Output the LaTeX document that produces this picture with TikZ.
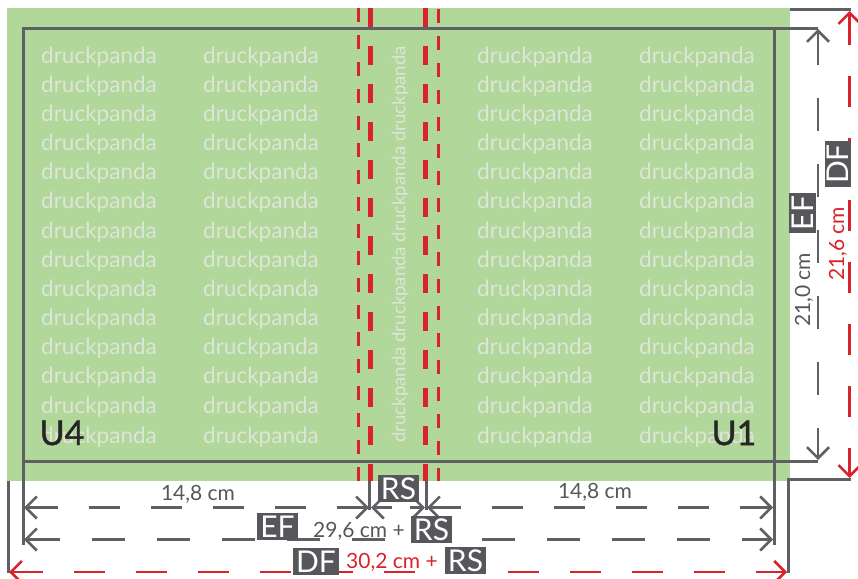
\documentclass[tikz,border=0pt]{standalone}
\usepackage{fontspec}
\setmainfont{Lato}
\newfontfamily\coverfont[FakeBold=1.2]{Lato}
\usetikzlibrary{arrows.meta}
\definecolor{grn}{HTML}{B1D79B}
\definecolor{wm}{HTML}{DDE5D8}
\definecolor{gry}{HTML}{5E6064}
\definecolor{lbl}{HTML}{55575B}
\definecolor{rd}{HTML}{D8232A}
\tikzset{
 x=1pt,y=-1pt,
 wmark/.style={text=wm,font=\fontsize{22.5}{22.5}\selectfont,inner sep=0pt},
 tag/.style={fill=lbl,text=white,font=\fontsize{30}{30}\selectfont,inner sep=0pt,anchor=center},
 dimtxt/.style={text=lbl,font=\fontsize{21}{21}\selectfont,inner sep=0pt},
 redtxt/.style={text=rd,font=\fontsize{21}{21}\selectfont,inner sep=0pt},
 cover/.style={text=black!85,font=\coverfont\fontsize{34}{34}\selectfont,inner sep=0pt},
 trimln/.style={draw=gry,line width=3pt},
 tipg/.style={draw=gry,line width=2.6pt,dash pattern=on 31pt off 31pt,{Straight Barb[length=11pt,width=22pt,line width=2.6pt]}-{Straight Barb[length=11pt,width=22pt,line width=2.6pt]}},
 tipr/.style={tipg,draw=rd},
 thickfold/.style={draw=rd,line width=4.5pt,dash pattern=on 19pt off 19pt},
 thinfold/.style={draw=rd,line width=3pt,dash pattern=on 14pt off 13pt},
}
\begin{document}
\begin{tikzpicture}
\useasboundingbox (0,0) rectangle (858,578);
\fill[grn] (7,8) rectangle (790,481);
% watermark
\foreach \r [count=\i] in {57,86,115,144,173,202,232,261,290,319,348,377,407,437}{
  \node[wmark] (wa\i) at (99,\r) {druckpanda};
  \node[wmark] (wb\i) at (261,\r) {druckpanda};
  \node[wmark] (wc\i) at (535,\r) {druckpanda};
  \node[wmark] (wd\i) at (697,\r) {druckpanda};
}
\node[wmark,rotate=90,font=\fontsize{18.6}{18.6}\selectfont] (wspine) at (400,244.5) {druckpanda druckpanda druckpanda druckpanda};
% fold lines
\coordinate (fa1) at (370.5,8); \coordinate (fa2) at (370.5,481);
\coordinate (fb1) at (425.5,8); \coordinate (fb2) at (425.5,481);
\coordinate (fc1) at (358,8); \coordinate (fc2) at (358,481);
\coordinate (fd1) at (438,9); \coordinate (fd2) at (438,481);
\draw[thickfold] (fa1) -- (fa2);
\draw[thickfold] (fb1) -- (fb2);
\draw[thinfold] (fc1) -- (fc2);
\draw[thinfold] (fd1) -- (fd2);
% trim box and extension lines
\draw[trimln] (23,545) -- (23,28.5) -- (818,28.5);
\draw[trimln] (23,461) -- (818,461);
\draw[trimln] (774,28.5) -- (774,545);
\draw[trimln] (8,481) -- (8,573);
\draw[trimln] (788.5,573) -- (788.5,479) -- (851,479);
\draw[trimln] (790,9.5) -- (851,9.5);
\draw[trimln] (369.5,481) -- (369.5,510);
\draw[trimln] (426,481) -- (426,510);
% dimension end points
\coordinate (h1a) at (24,507.5); \coordinate (h1b) at (369,507.5);
\coordinate (h2a) at (371,507.5); \coordinate (h2b) at (425,507.5);
\coordinate (h3a) at (427,507.5); \coordinate (h3b) at (773,507.5);
\coordinate (h4a) at (24,539.5); \coordinate (h4b) at (773,539.5);
\coordinate (h5a) at (9,572); \coordinate (h5b) at (787,572);
\coordinate (v1a) at (818,29); \coordinate (v1b) at (818,460);
\coordinate (v2a) at (849.5,11); \coordinate (v2b) at (849.5,478);
\draw[tipg] (h1a) -- (h1b);
\draw[tipg,dash pattern=on 18pt off 18pt] (h2a) -- (h2b);
\draw[tipg] (h3a) -- (h3b);
\draw[tipg,dash pattern=on 32.5pt off 32.5pt] (h4a) -- (h4b);
\draw[tipr] (h5a) -- (h5b);
\draw[tipg,dash pattern=on 33pt off 33pt] (v1a) -- (v1b);
\draw[tipr] (v2a) -- (v2b);
% cover labels
\node[cover] (u4) at (62,433) {U4};
\node[cover] (u1) at (734,433) {U1};
% tags
\node[tag,minimum width=41pt,minimum height=27pt] (rs1) at (398.5,488.5) {RS};
\node[tag,minimum width=41pt,minimum height=27pt] (ef1) at (277.5,526.5) {EF};
\node[tag,minimum width=41pt,minimum height=27pt] (rs2) at (431.5,529.5) {RS};
\node[tag,minimum width=46pt,minimum height=27pt] (df1) at (316,561.5) {DF};
\node[tag,minimum width=41pt,minimum height=27pt] (rs3) at (465.5,560.5) {RS};
\node[tag,rotate=90,minimum width=40pt,minimum height=27pt] (ef2) at (802.5,213) {EF};
\node[tag,rotate=90,minimum width=46pt,minimum height=26pt] (df2) at (838,164) {DF};
% dimension text
\node[dimtxt] (t1) at (198,494) {14,8 cm};
\node[dimtxt] (t2) at (595,492) {14,8 cm};
\node[dimtxt] (t3) at (359,531) {29,6 cm +};
\node[redtxt] (t4) at (392,562) {30,2 cm +};
\node[dimtxt,rotate=90] (t5) at (804,290) {21,0 cm};
\node[redtxt,rotate=90] (t6) at (838,244) {21,6 cm};
\end{tikzpicture}
\end{document}
